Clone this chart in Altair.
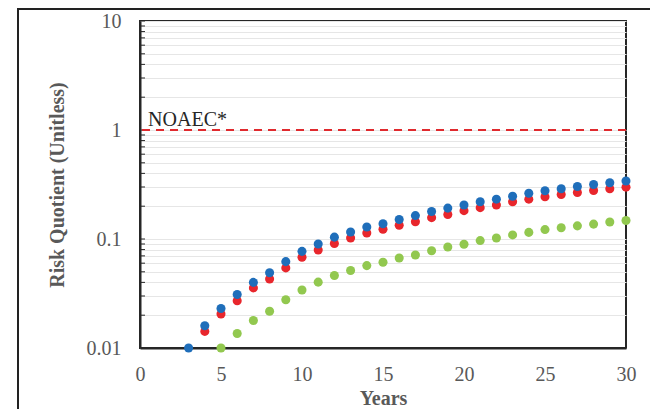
import altair as alt
import pandas as pd

# ---- data ----
years_blue = list(range(3, 31))
rq_blue = [0.010, 0.016, 0.023, 0.031, 0.040, 0.049, 0.062, 0.077, 0.090, 0.104,
           0.116, 0.129, 0.138, 0.151, 0.164, 0.179, 0.192, 0.205, 0.220, 0.232,
           0.247, 0.263, 0.277, 0.289, 0.303, 0.316, 0.328, 0.340]

years_red = list(range(4, 31))
rq_red = [0.0142, 0.0205, 0.0271, 0.0356, 0.043, 0.0543, 0.068, 0.0793, 0.0908,
          0.102, 0.1135, 0.1228, 0.1335, 0.144, 0.157, 0.168, 0.182, 0.194, 0.205,
          0.220, 0.232, 0.244, 0.256, 0.267, 0.279, 0.289, 0.299]

years_green = list(range(5, 31))
rq_green = [0.010, 0.0136, 0.0179, 0.0217, 0.0277, 0.0341, 0.0402, 0.0463, 0.0514,
            0.057, 0.0612, 0.067, 0.0714, 0.078, 0.0845, 0.0894, 0.0967, 0.102,
            0.109, 0.115, 0.122, 0.127, 0.132, 0.137, 0.143, 0.148]

series_names = ["Series 3", "Series 2", "Series 1"]  # green, red, blue (draw order)
series_colors = ["#92C84F", "#E8262C", "#1F6EBA"]

x_ticks = [0, 5, 10, 15, 20, 25, 30]
y_major = [0.01, 0.1, 1, 10]
y_ticks = [0.01, 0.02, 0.03, 0.04, 0.05, 0.06, 0.07, 0.08, 0.09,
           0.1, 0.2, 0.3, 0.4, 0.5, 0.6, 0.7, 0.8, 0.9,
           1, 2, 3, 4, 5, 6, 7, 8, 9, 10]
noaec_value = 1
noaec_label = "NOAEC*"

# ---- tables ----
rows = []
for name, yrs, vals in [(series_names[0], years_green, rq_green),
                        (series_names[1], years_red, rq_red),
                        (series_names[2], years_blue, rq_blue)]:
    for yv, v in zip(yrs, vals):
        rows.append({"Years": yv, "RQ": v, "Series": name})
df = pd.DataFrame(rows)
df["order"] = df["Series"].map({n: i for i, n in enumerate(series_names)})
ticks_df = pd.DataFrame({"RQ": y_ticks})

FONT = "Liberation Serif"
GRAY = "#595959"

x_scale = alt.Scale(domain=[0, 30], nice=False)
y_scale = alt.Scale(type="log", domain=[0.01, 10], nice=False)

label_expr = "indexof(" + str(y_major) + ", datum.value) >= 0 ? datum.label : ''"

points = alt.Chart(df).mark_point(filled=True, size=82, opacity=1).encode(
    x=alt.X("Years:Q", scale=x_scale,
            axis=alt.Axis(values=x_ticks, title="Years", grid=False, ticks=False, tickSize=0,
                          labelPadding=32, labelBaseline="alphabetic", labelFlush=False,
                          titleY=56, titleX=243, titleBaseline="alphabetic",
                          domainColor="#262626", domainWidth=2)),
    y=alt.Y("RQ:Q", scale=y_scale,
            axis=alt.Axis(values=y_ticks, title="Risk Quotient (Unitless)", format="~g",
                          labelExpr=label_expr, grid=True, gridColor="#e6e6e6", gridWidth=1,
                          ticks=False, tickSize=0, labelPadding=19, labelFlush=False,
                          titleX=-77, titleY=163.5, titleBaseline="alphabetic",
                          titleAlign="center", titleAngle=270,
                          domainColor="#262626", domainWidth=2)),
    color=alt.Color("Series:N", scale=alt.Scale(domain=series_names, range=series_colors),
                    legend=None),
    order=alt.Order("order:Q"),
)

stubs = alt.Chart(ticks_df).mark_rule(color="#262626", strokeWidth=1).encode(
    y=alt.Y("RQ:Q", scale=y_scale),
    x=alt.value(0), x2=alt.value(5),
)

noaec = alt.Chart(pd.DataFrame({"RQ": [noaec_value]})).mark_rule(
    color="#E02A2E", strokeWidth=2, strokeDash=[8, 6]
).encode(y=alt.Y("RQ:Q", scale=y_scale))

noaec_text = alt.Chart(pd.DataFrame({"RQ": [noaec_value], "t": [noaec_label]})).mark_text(
    align="left", baseline="alphabetic", dy=-4, fontSize=20, font=FONT, color="#262626"
).encode(x=alt.datum(0.5), y=alt.Y("RQ:Q", scale=y_scale), text="t:N")

frame_left = alt.Chart(pd.DataFrame({"a": [0]})).mark_rule(color="#222222", strokeWidth=2).encode(
    x=alt.value(-122), y=alt.value(-12), y2=alt.value(420))
frame_top = alt.Chart(pd.DataFrame({"a": [0]})).mark_rule(color="#222222", strokeWidth=2).encode(
    x=alt.value(-123), x2=alt.value(520), y=alt.value(-12))

chart = alt.layer(stubs, noaec, noaec_text, points, frame_left, frame_top).properties(
    width=486, height=327,
    autosize=alt.AutoSizeParams(type="none"),
    padding={"left": 132, "top": 13, "right": 24, "bottom": 61},
).configure_view(
    stroke="#262626", strokeWidth=2
).configure_axis(
    labelFont=FONT, labelFontSize=20, labelColor=GRAY,
    titleFont=FONT, titleFontSize=20, titleColor=GRAY, titleFontWeight="bold",
)

chart.save("out.html", embed_options={"renderer": "svg", "actions": False})
